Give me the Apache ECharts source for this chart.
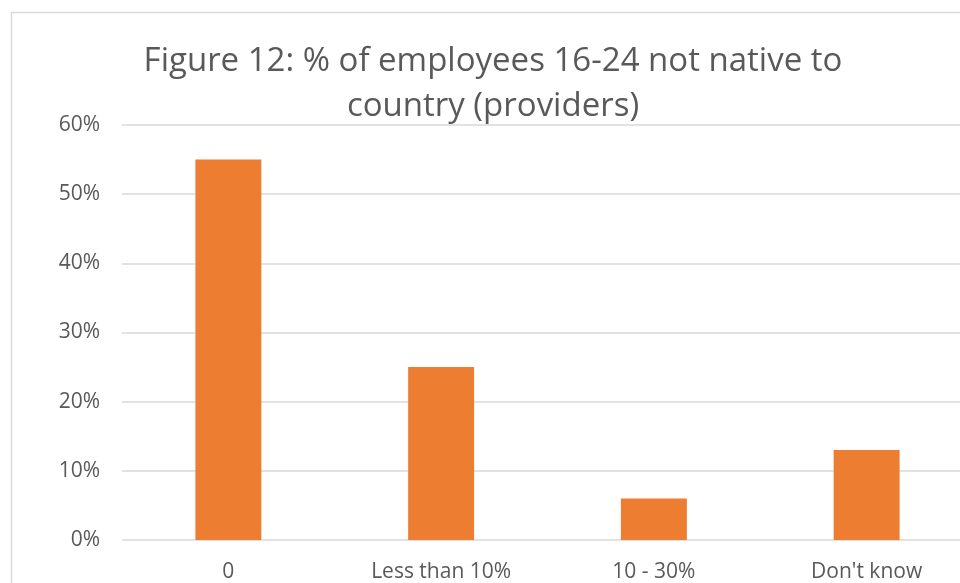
<!DOCTYPE html>
<html>
<head>
<meta charset="utf-8">
<style>
  html, body { margin: 0; padding: 0; background: #fff; }
  #chart { width: 960px; height: 583px; }
</style>
<script src="https://cdn.jsdelivr.net/npm/echarts@6/dist/echarts.min.js"></script>
</head>
<body>
<div id="chart"></div>
<script>
// Share of young employees (16-24) not native to the country, as reported by providers
const categories = ['0', 'Less than 10%', '10 - 30%', "Don't know"];
const shares = [55, 25, 6, 13];
const yTicks = [0, 10, 20, 30, 40, 50, 60];

const textColor = '#595959';
const fontFamily = '"Open Sans", "Noto Sans", sans-serif';

const chart = echarts.init(document.getElementById('chart'), null, { renderer: 'canvas' });
chart.setOption({
  backgroundColor: '#ffffff',
  animation: false,
  title: {
    text: 'Figure 12: % of employees 16-24 not native to\ncountry (providers)',
    left: 488,
    top: 34,
    textAlign: 'center',
    textStyle: {
      color: textColor,
      fontFamily: fontFamily,
      fontSize: 33,
      fontWeight: 'normal',
      lineHeight: 45
    }
  },
  graphic: [{
    type: 'rect',
    shape: { x: 11.5, y: 12.5, width: 1000, height: 700 },
    style: { fill: 'none', stroke: '#d9d9d9', lineWidth: 1.5 },
    silent: true
  }],
  // the plot runs past the right edge of the canvas
  grid: { left: 122, top: 125, width: 851, height: 415, containLabel: false, outerBoundsMode: 'none' },
  xAxis: {
    type: 'category',
    data: categories,
    axisLine: { show: false },
    axisTick: { show: false },
    axisLabel: {
      color: textColor,
      fontFamily: fontFamily,
      fontSize: 21,
      margin: 22
    }
  },
  yAxis: {
    type: 'value',
    min: yTicks[0],
    max: yTicks[yTicks.length - 1],
    interval: 10,
    axisLine: { show: false },
    axisTick: { show: false },
    splitLine: { lineStyle: { color: '#d9d9d9', width: 1.5 } },
    axisLabel: {
      color: textColor,
      fontFamily: fontFamily,
      fontSize: 21,
      margin: 22,
      formatter: v => v + '%'
    }
  },
  series: [{
    type: 'bar',
    data: shares,
    barWidth: '31%',
    itemStyle: { color: '#ED7D31' }
  }]
});
</script>
</body>
</html>
